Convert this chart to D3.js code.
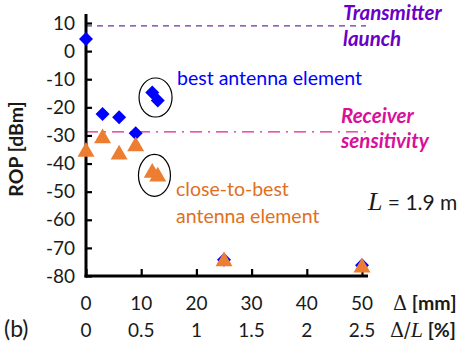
<!DOCTYPE html>
<html><head><meta charset="utf-8">
<script src="https://cdn.jsdelivr.net/npm/d3@7"></script>
<style>body{margin:0;background:#fff}svg{display:block}text{font-family:Lato,"Open Sans",sans-serif}</style>
</head><body><div id="c"></div>
<script>
const bestX = [0, 3, 6, 9, 12, 13, 25, 50];
const bestY = [4.3, -22.4, -23.5, -29.2, -14.7, -17.6, -74.2, -76.2];
const closeX = [0, 3, 6, 9, 12, 13, 25, 50];
const closeY = [-35.8, -31.0, -36.8, -33.9, -43.3, -44.6, -74.8, -77.0];
const yTicks = [10, 0, -10, -20, -30, -40, -50, -60, -70, -80];
const xTicks = [0, 10, 20, 30, 40, 50];
const xTicksPct = ["0", "0.5", "1", "1.5", "2", "2.5"];
const txLaunch = 9;
const rxSens = -28.7;

const W = 467, H = 345;
const svg = d3.select("#c").append("svg").attr("width", W).attr("height", H);
const x = d3.scaleLinear().domain([0, 50]).range([86, 362]);
const y = d3.scaleLinear().domain([-80, 10]).range([276, 23]);

// reference lines
svg.append("line").attr("x1", 86).attr("x2", 366).attr("y1", y(txLaunch)).attr("y2", y(txLaunch))
  .attr("stroke", "#7030A0").attr("stroke-width", 1.3).attr("stroke-dasharray", "6,5");
svg.append("line").attr("x1", 86).attr("x2", 366).attr("y1", y(rxSens)).attr("y2", y(rxSens))
  .attr("stroke", "#E0209A").attr("stroke-width", 1.3).attr("stroke-dasharray", "12,6,2,6");

// axes
const yAxis = d3.axisRight(y).tickValues(yTicks).tickSize(6).tickFormat("");
const gy = svg.append("g").attr("transform", "translate(86,0)").call(yAxis);
gy.select(".domain").remove();
gy.selectAll(".tick line").attr("stroke", "#000").attr("stroke-width", 2.2);
const xAxis = d3.axisTop(x).tickValues(xTicks).tickSize(7).tickFormat("");
const gx = svg.append("g").attr("transform", "translate(0,276)").call(xAxis);
gx.select(".domain").remove();
gx.selectAll(".tick line").attr("stroke", "#000").attr("stroke-width", 2.2);
svg.append("line").attr("x1", 86).attr("x2", 86).attr("y1", 14).attr("y2", 277.5).attr("stroke", "#000").attr("stroke-width", 3);
svg.append("line").attr("x1", 84.5).attr("x2", 368).attr("y1", 276).attr("y2", 276).attr("stroke", "#000").attr("stroke-width", 3);

// y tick labels
svg.selectAll(".yl").data(yTicks).enter().append("text")
  .attr("x", 75).attr("y", d => y(d)).attr("dy", "0.35em").attr("text-anchor", "end")
  .attr("font-size", 19).attr("fill", "#1a1a1a").text(d => d);
// x tick labels
svg.selectAll(".xl").data(xTicks).enter().append("text")
  .attr("x", d => x(d)).attr("y", 303).attr("dy", "0.35em").attr("text-anchor", "middle")
  .attr("font-size", 19).attr("fill", "#1a1a1a").text(d => d);
svg.selectAll(".xl2").data(xTicks).enter().append("text")
  .attr("x", d => x(d)).attr("y", 330).attr("dy", "0.35em").attr("text-anchor", "middle")
  .attr("font-size", 19).attr("fill", "#1a1a1a").text((d, i) => xTicksPct[i]);

// axis titles
svg.append("text").attr("transform", "translate(16,149) rotate(-90)").attr("text-anchor", "middle")
  .attr("dy", "0.35em").attr("font-size", 19.5).attr("font-weight", "bold").attr("fill", "#1a1a1a").text("ROP [dBm]");
const t1 = svg.append("text").attr("x", 393).attr("y", 303).attr("dy", "0.35em").attr("font-size", 19.5).attr("fill", "#1a1a1a");
t1.append("tspan").attr("font-family", "DejaVu Serif").text("Δ");
t1.append("tspan").attr("font-weight", "bold").text(" [mm]");
const t2 = svg.append("text").attr("x", 390).attr("y", 330).attr("dy", "0.35em").attr("font-size", 19.5).attr("fill", "#1a1a1a");
t2.append("tspan").attr("font-family", "DejaVu Serif").text("Δ/");
t2.append("tspan").attr("font-family", "Liberation Serif").attr("font-style", "italic").attr("font-size", 22).text("L");
t2.append("tspan").attr("font-weight", "bold").text(" [%]");
svg.append("text").attr("x", 4).attr("y", 329).attr("dy", "0.35em").attr("font-size", 23).attr("fill", "#1a1a1a").text("(b)");

// ellipses
svg.append("ellipse").attr("cx", x(12.6)).attr("cy", y(-16.5)).attr("rx", 16.5).attr("ry", 19.5)
  .attr("fill", "none").attr("stroke", "#000").attr("stroke-width", 1.2);
svg.append("ellipse").attr("cx", x(12.4)).attr("cy", y(-44.2)).attr("rx", 16).attr("ry", 21)
  .attr("fill", "none").attr("stroke", "#000").attr("stroke-width", 1.2);

// markers
svg.selectAll(".b").data(bestX).enter().append("path")
  .attr("d", d3.symbol().type(d3.symbolSquare).size(98))
  .attr("transform", (d, i) => `translate(${x(d)},${y(bestY[i])}) rotate(45)`)
  .attr("fill", "#0000FF");
const tri = d3.symbol().type(d3.symbolTriangle).size(125);
svg.selectAll(".o").data(closeX).enter().append("path")
  .attr("d", tri)
  .attr("transform", (d, i) => `translate(${x(d)},${y(closeY[i])})`)
  .attr("fill", "#ED7D31");

// annotations
svg.append("text").attr("x", 177).attr("y", 85).attr("font-size", 19.5).attr("fill", "#0000FF").text("best antenna element");
svg.append("text").attr("x", 176).attr("y", 196).attr("font-size", 19.5).attr("fill", "#E0701E").text("close-to-best");
svg.append("text").attr("x", 176).attr("y", 223).attr("font-size", 19.5).attr("fill", "#E0701E").text("antenna element");
const bi = (xx, yy, col, s) => svg.append("text").attr("x", xx).attr("y", yy).attr("font-size", 20.5)
  .attr("font-weight", "bold").attr("font-style", "italic").attr("fill", col).text(s);
bi(343, 20, "#6A00C8", "Transmitter");
bi(343, 46, "#6A00C8", "launch");
bi(341, 123, "#D8109A", "Receiver");
bi(341, 148, "#D8109A", "sensitivity");
const lt = svg.append("text").attr("x", 368).attr("y", 210).attr("font-size", 21).attr("fill", "#1a1a1a");
lt.append("tspan").attr("font-family", "Liberation Serif").attr("font-style", "italic").attr("font-size", 26).text("L");
lt.append("tspan").text(" = 1.9 m");
</script></body></html>
